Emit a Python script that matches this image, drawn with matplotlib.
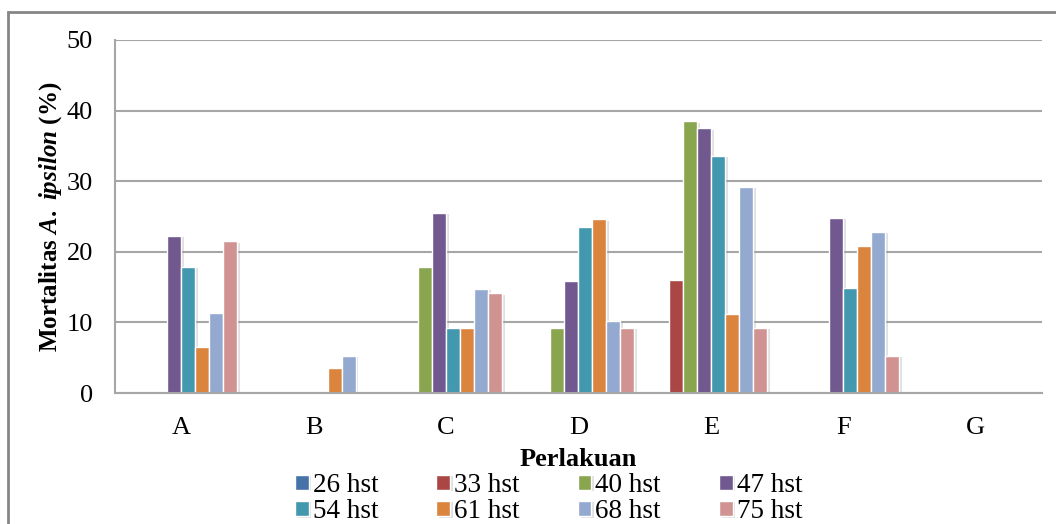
import numpy as np
import matplotlib.pyplot as plt
import matplotlib.patheffects as pe
from matplotlib.patches import Rectangle

plt.rcParams['font.family'] = ['Liberation Serif', 'DejaVu Serif']
plt.rcParams['mathtext.fontset'] = 'custom'
plt.rcParams['mathtext.it'] = 'Liberation Serif:italic:bold'
plt.rcParams['mathtext.rm'] = 'Liberation Serif:bold'

perlakuan = ['A', 'B', 'C', 'D', 'E', 'F', 'G']
seri = ['26 hst', '33 hst', '40 hst', '47 hst', '54 hst', '61 hst', '68 hst', '75 hst']
hst26 = [0, 0, 0, 0, 0, 0, 0]
hst33 = [0, 0, 0, 0, 16.0, 0, 0]
hst40 = [0, 0, 17.9, 9.2, 38.5, 0, 0]
hst47 = [22.3, 0, 25.5, 15.9, 37.5, 24.8, 0]
hst54 = [17.9, 0, 9.2, 23.5, 33.6, 14.9, 0]
hst61 = [6.5, 3.5, 9.2, 24.6, 11.2, 20.8, 0]
hst68 = [11.3, 5.3, 14.8, 10.2, 29.2, 22.8, 0]
hst75 = [21.5, 0, 14.1, 9.2, 9.2, 5.3, 0]
semua = [hst26, hst33, hst40, hst47, hst54, hst61, hst68, hst75]
warna = ['#4572A7', '#AA4643', '#89A54E', '#71588F', '#4198AF', '#DB843D', '#93A9CF', '#D19392']

fig = plt.figure(figsize=(10.56, 5.24), dpi=100)
ax = fig.add_axes([0.1089, 0.25, 0.8778, 0.6737])

x = np.arange(len(perlakuan))
w = 0.1057
bayangan = [pe.SimplePatchShadow(offset=(2, -1), shadow_rgbFace='#999999', alpha=0.3), pe.Normal()]
handles = []
for i, (nilai, c) in enumerate(zip(semua, warna)):
    pos = x + (i - 3.5) * w
    b = ax.bar(pos, nilai, width=w, color=c, edgecolor='white', linewidth=1.0,
               label=seri[i], path_effects=bayangan)
    handles.append(b)

ax.set_xlim(-0.5, 6.5)
ax.set_ylim(0, 50)
ax.set_yticks([0, 10, 20, 30, 40, 50])
ax.set_xticks(x)
ax.set_xticklabels(perlakuan)
ax.tick_params(axis='both', length=0, labelsize=19, colors='black')
ax.tick_params(axis='y', pad=16)
ax.tick_params(axis='x', pad=17)
ax.yaxis.grid(True, color='#A6A6A6', linewidth=1.5)
ax.set_axisbelow(True)
for s in ['top', 'right']:
    ax.spines[s].set_visible(False)
ax.spines['left'].set_color('#A6A6A6')
ax.spines['bottom'].set_color('#A6A6A6')
ax.spines['left'].set_linewidth(1.5)
ax.spines['bottom'].set_linewidth(1.5)

ax.set_ylabel(r'Mortalitas $\mathit{A.\ ipsilon}$ (%)', fontsize=18, fontweight='bold', labelpad=2)
ax.set_xlabel('Perlakuan', fontsize=19, fontweight='bold', labelpad=7)

# urutan baris per baris seperti Excel
urut = [0, 4, 1, 5, 2, 6, 3, 7]
leg = fig.legend([handles[k] for k in urut], [seri[k] for k in urut],
                 loc='upper left', bbox_to_anchor=(295 / 1056, 1 - 473 / 524), ncol=4, frameon=False,
                 fontsize=19.5, handlelength=0.5, handleheight=0.5, handletextpad=0.15,
                 columnspacing=2.15, labelspacing=0.04, borderpad=0, borderaxespad=0)

fig.patches.append(Rectangle((8 / 1056, -0.1), 1.2, 1 - 12 / 524 + 0.1, transform=fig.transFigure,
                             fill=False, edgecolor='#868686', linewidth=2))

fig.savefig('out.png', dpi=100)
